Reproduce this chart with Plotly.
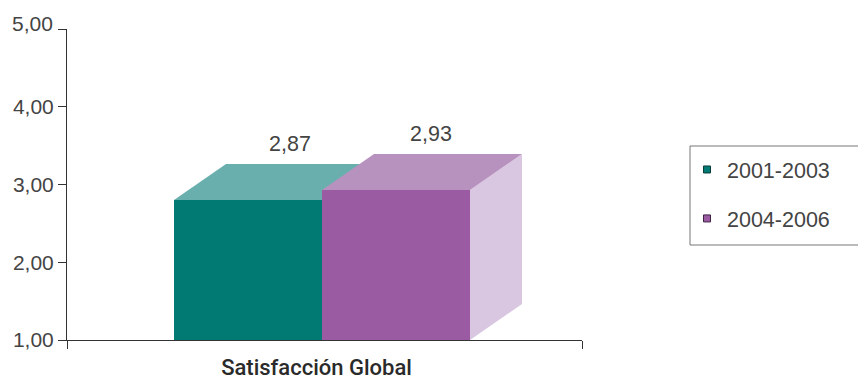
import plotly.graph_objects as go

# Data
periods = ["2001-2003", "2004-2006"]
category = "Satisfacción Global"
drawn_values = [2.80, 2.93]
value_labels = ["2,87", "2,93"]
y_ticks = [1, 2, 3, 4, 5]
y_tick_labels = ["1,00", "2,00", "3,00", "4,00", ""]
top_tick_label = "5,00"

# Style
front_colors = ["#007A73", "#9A5BA3"]
top_colors = ["#69AFAD", "#B892BF"]
side_color = "#D9C6E1"
marker_lines = ["#0B3D3A", "#3E2145"]
FONT = "Liberation Sans"

# Geometry (x axis runs 0..515 across the plot)
W, H = 858, 377
L, R, T, B = 67, 582, 29, 340
x_span = R - L
y_min, y_max = 1, 5
bar_left = [107, 255]
bar_w = 148
dx = 52
dy = (y_max - y_min) * 36 / (B - T)
label_dx = [42, 35]
label_dy = 0.70

fig = go.Figure()


def face(xs, ys, color):
    fig.add_trace(go.Scatter(x=xs, y=ys, mode="lines", fill="toself", fillcolor=color,
                             line=dict(width=0), hoverinfo="skip", showlegend=False))


for i, v in enumerate(drawn_values):
    x0, x1 = bar_left[i], bar_left[i] + bar_w
    if i == 1:
        face([x1, x1 + dx, x1 + dx, x1], [y_min, y_min + dy, v + dy, v], side_color)
    face([x0, x1, x1 + dx, x0 + dx], [v, v, v + dy, v + dy], top_colors[i])
    face([x0, x1, x1, x0], [y_min, y_min, v, v], front_colors[i])

fig.add_trace(go.Scatter(
    x=[bar_left[i] + bar_w / 2 + label_dx[i] for i in range(2)],
    y=[v + label_dy for v in drawn_values],
    text=value_labels, mode="text", textposition="middle center",
    textfont=dict(family=FONT, size=21.5, color="#444444"),
    hoverinfo="skip", showlegend=False))

for i, p in enumerate(periods):
    fig.add_trace(go.Scatter(x=[None], y=[None], mode="markers", name=p, legendgroup=p,
                             marker=dict(symbol="square", size=7, color=front_colors[i],
                                         line=dict(color=marker_lines[i], width=1))))

fig.update_layout(
    width=W, height=H,
    margin=dict(l=L, r=W - R, t=T, b=H - B, pad=0),
    paper_bgcolor="white", plot_bgcolor="white",
    font=dict(family=FONT, color="#444444"),
    xaxis=dict(range=[0, x_span], showgrid=False, zeroline=False, showline=True, automargin=False,
               linecolor="#333333", linewidth=1,
               tickvals=[249.5], ticktext=[category], ticks="", ticklabelstandoff=8,
               tickfont=dict(family="Roboto", weight=500, size=22, color="#2a2a2a"),
               minor=dict(tickvals=[0, x_span], ticks="outside", ticklen=8,
                          tickcolor="#333333", tickwidth=1)),
    yaxis=dict(range=[y_min, y_max], showgrid=False, zeroline=False, showline=True, automargin=False,
               linecolor="#333333", linewidth=1,
               tickvals=y_ticks, ticktext=y_tick_labels, ticks="outside", ticklen=8,
               tickcolor="#333333", tickwidth=1,
               tickfont=dict(family=FONT, size=21, color="#444444")),
    legend=dict(x=(687 - L) / x_span, y=(B - 149) / (B - T), xanchor="left", yanchor="top",
                bgcolor="rgba(0,0,0,0)", borderwidth=0, tracegroupgap=18,
                font=dict(family=FONT, size=21.5, color="#444444")),
    shapes=[dict(type="rect", xref="paper", yref="paper",
                 x0=(690 - L) / x_span, x1=(W + 3 - L) / x_span,
                 y0=(B - 245) / (B - T), y1=(B - 146) / (B - T),
                 line=dict(color="#777777", width=1), fillcolor="rgba(0,0,0,0)")],
    annotations=[dict(text=top_tick_label, xref="paper", yref="paper",
                      x=(55 - L) / x_span, y=(B - 24) / (B - T),
                      xanchor="right", yanchor="middle", showarrow=False,
                      font=dict(family=FONT, size=21, color="#444444"))],
)

fig.write_html("out.html", config={"displayModeBar": False},
               post_script="document.body.style.margin='0';")
